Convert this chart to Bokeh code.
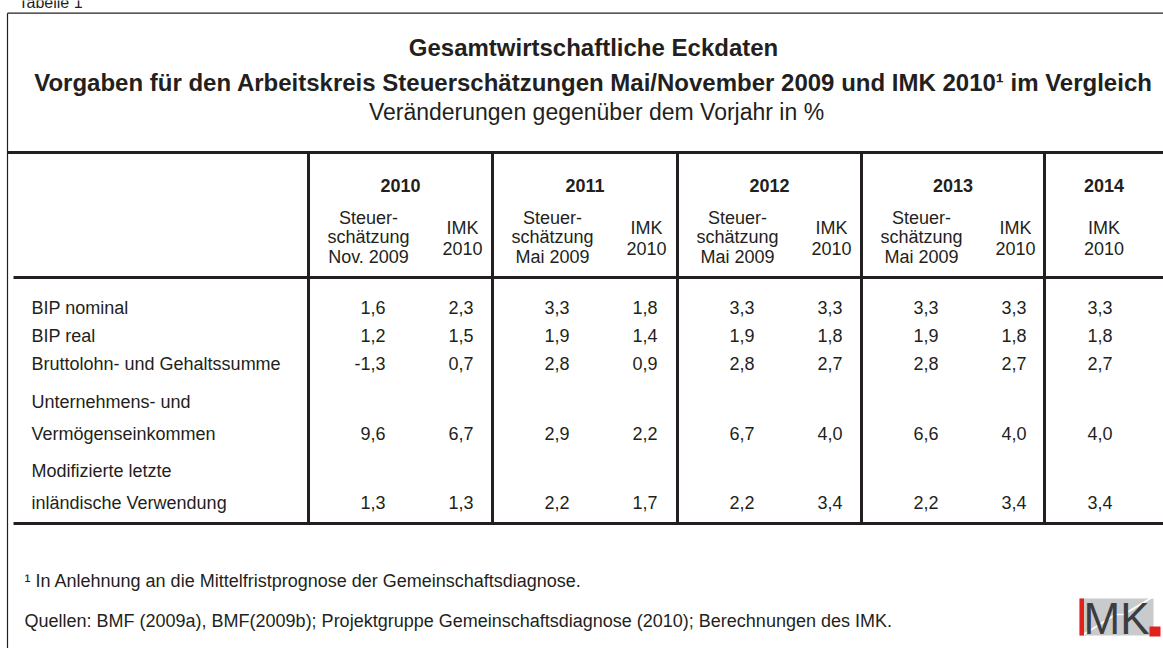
from bokeh.plotting import figure
from bokeh.models import Range1d, ColumnDataSource
from bokeh.core.properties import value
from bokeh.embed import file_html
from bokeh.resources import INLINE

# ---------------- data ----------------
table_label = "Tabelle 1"
title1 = "Gesamtwirtschaftliche Eckdaten"
title2 = "Vorgaben für den Arbeitskreis Steuerschätzungen Mai/November 2009 und IMK 2010¹ im Vergleich"
title3 = "Veränderungen gegenüber dem Vorjahr in %"

years = ["2010", "2011", "2012", "2013", "2014"]
sub_steuer = [["Steuer-", "schätzung", "Nov. 2009"],
              ["Steuer-", "schätzung", "Mai 2009"],
              ["Steuer-", "schätzung", "Mai 2009"],
              ["Steuer-", "schätzung", "Mai 2009"],
              None]
sub_imk = ["IMK", "2010"]

row_labels = [["BIP nominal"],
              ["BIP real"],
              ["Bruttolohn- und Gehaltssumme"],
              ["Unternehmens- und", "Vermögenseinkommen"],
              ["Modifizierte letzte", "inländische Verwendung"]]

steuer_2010 = [1.6, 1.2, -1.3, 9.6, 1.3]
imk_2010 = [2.3, 1.5, 0.7, 6.7, 1.3]
steuer_2011 = [3.3, 1.9, 2.8, 2.9, 2.2]
imk_2011 = [1.8, 1.4, 0.9, 2.2, 1.7]
steuer_2012 = [3.3, 1.9, 2.8, 6.7, 2.2]
imk_2012 = [3.3, 1.8, 2.7, 4.0, 3.4]
steuer_2013 = [3.3, 1.9, 2.8, 6.6, 2.2]
imk_2013 = [3.3, 1.8, 2.7, 4.0, 3.4]
imk_2014 = [3.3, 1.8, 2.7, 4.0, 3.4]

steuer_vals = [steuer_2010, steuer_2011, steuer_2012, steuer_2013, None]
imk_vals = [imk_2010, imk_2011, imk_2012, imk_2013, imk_2014]

footnote = "¹ In Anlehnung an die Mittelfristprognose der Gemeinschaftsdiagnose."
sources = "Quellen: BMF (2009a), BMF(2009b); Projektgruppe Gemeinschaftsdiagnose (2010); Berechnungen des IMK."

# ---------------- layout (pixel coordinates of the page) ----------------
FONT = value("Liberation Sans")
TXT = "#231f20"
col_edges = [308, 492, 677, 861, 1044]
right_edge = 1163
row_y = [307, 335, 363, 433, 502]
row_gap = 32
title_cx = 593

def fmt(v):
    return f"{v:.1f}".replace(".", ",")

p = figure(width=1163, height=648, x_range=Range1d(0, 1163), y_range=Range1d(648, 0),
           output_backend="svg", toolbar_location=None, x_axis_type=None, y_axis_type=None,
           min_border=0)
p.outline_line_color = None
p.background_fill_color = "white"
p.border_fill_color = "white"

def add_text(xs, ys, texts, size, align="left", bold=False, color=TXT, baseline="middle"):
    src = ColumnDataSource(dict(x=xs, y=ys, t=texts))
    p.text(x="x", y="y", text="t", source=src, text_font=FONT, text_font_size=size,
           text_align=align, text_baseline=baseline, text_color=color,
           text_font_style="bold" if bold else "normal")

# cut-off table label at the very top
add_text([18], [2], [table_label], "16px", baseline="alphabetic")

# outer frame (top + left thin line)
p.segment(x0=[7, 7], y0=[12.7, 12.7], x1=[right_edge, 7], y1=[12.7, 648],
          line_color=TXT, line_width=1.2)

# titles
add_text([title_cx], [47], [title1], "24px", align="center", bold=True)
add_text([title_cx], [82], [title2], "24px", align="center", bold=True)
add_text([title_cx + 3], [111], [title3], "23px", align="center")

# table rules
p.segment(x0=[7, 13, 13], y0=[152, 277, 523], x1=[right_edge] * 3, y1=[152, 277, 523],
          line_color=TXT, line_width=3)
p.segment(x0=col_edges, y0=[152] * 5, x1=col_edges, y1=[523] * 5,
          line_color=TXT, line_width=3)

# header
yr_x, st_x, st_y, st_t, imk_x, imk_y, imk_t = [], [], [], [], [], [], []
for i, yr in enumerate(years):
    e = col_edges[i]
    nxt = col_edges[i + 1] if i + 1 < len(col_edges) else right_edge
    yr_x.append((e + nxt) / 2)
    if sub_steuer[i] is not None:
        for j, line in enumerate(sub_steuer[i]):
            st_x.append(e + 60); st_y.append(217 + 19.5 * j); st_t.append(line)
        ix = e + 154
    else:
        ix = (e + nxt) / 2
    for j, line in enumerate(sub_imk):
        imk_x.append(ix); imk_y.append(227 + 20.5 * j); imk_t.append(line)
add_text(yr_x, [185] * len(years), years, "18px", align="center", bold=True)
add_text(st_x + imk_x, st_y + imk_y, st_t + imk_t, "18px", align="center")

# row labels
lx, ly, lt = [], [], []
for r, lines in enumerate(row_labels):
    n = len(lines)
    for j, line in enumerate(lines):
        lx.append(31); ly.append(row_y[r] - row_gap * (n - 1 - j)); lt.append(line)
add_text(lx, ly, lt, "18px")

# values
vx, vy, vt = [], [], []
for i in range(len(years)):
    e = col_edges[i]
    if steuer_vals[i] is not None:
        for r, v in enumerate(steuer_vals[i]):
            vx.append(e + 77); vy.append(row_y[r]); vt.append(fmt(v))
        ix = e + 165
    else:
        ix = 1112
    for r, v in enumerate(imk_vals[i]):
        vx.append(ix); vy.append(row_y[r]); vt.append(fmt(v))
add_text(vx, vy, vt, "18px", align="right")

# footnotes
add_text([24], [580], [footnote], "18px")
add_text([24], [620], [sources], "18px")

# IMK logo
lx0 = 1079
p.quad(left=[lx0], right=[lx0 + 74], top=[598], bottom=[635], fill_color="#c9cacc", line_color=None)
p.line(x=[lx0 + 4, lx0 + 36, lx0 + 44, lx0 + 74], y=[634, 614, 614, 596],
       line_color="white", line_width=1.5)
p.quad(left=[lx0], right=[lx0 + 4.5], top=[598], bottom=[635], fill_color="#e3211c", line_color=None)
add_text([lx0 + 4], [618], ["MK"], "44px", color="#3d3d3f")
p.quad(left=[lx0 + 70], right=[lx0 + 81], top=[626], bottom=[636], fill_color="#e3211c", line_color=None)

open("out.html", "w").write(file_html(p, INLINE))
